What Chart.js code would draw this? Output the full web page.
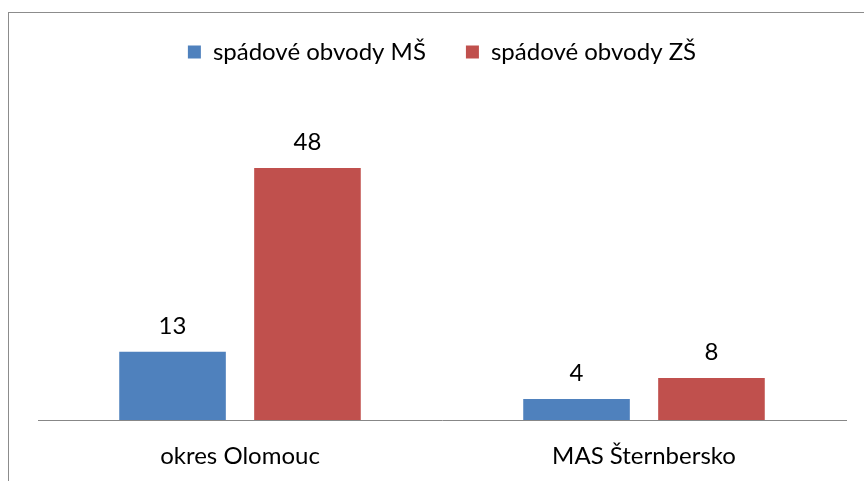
<!DOCTYPE html>
<html>
<head>
<meta charset="utf-8">
<script src="https://cdn.jsdelivr.net/npm/chart.js@4/dist/chart.umd.min.js"></script>
<style>
  html, body { margin: 0; padding: 0; background: #fff; }
  #wrap { width: 864px; height: 481px; }
</style>
</head>
<body>
<div id="wrap"><canvas id="chart" width="864" height="481"></canvas></div>
<script>
const categories = ['okres Olomouc', 'MAS Šternbersko'];
const seriesNames = ['spádové obvody MŠ', 'spádové obvody ZŠ'];
const msValues = [13, 4];
const zsValues = [48, 8];
const colors = ['#4F81BD', '#C0504D'];

const fontFamily = 'Lato, "Open Sans", sans-serif';
const fontSize = 24;

// frame round the whole chart (right and bottom edges fall outside the picture)
const framePlugin = {
    id: 'frame',
    beforeDraw(chart) {
        const ctx = chart.ctx;
        ctx.save();
        ctx.fillStyle = '#fff';
        ctx.fillRect(0, 0, chart.width, chart.height);
        ctx.strokeStyle = '#8c8c8c';
        ctx.lineWidth = 1;
        ctx.strokeRect(8.5, 12.5, 1000, 1000);
        ctx.restore();
    }
};

// value labels above the bars
const valueLabels = {
    id: 'valueLabels',
    afterDatasetsDraw(chart) {
        const ctx = chart.ctx;
        ctx.save();
        ctx.font = fontSize + 'px ' + fontFamily;
        ctx.fillStyle = '#000';
        ctx.textAlign = 'center';
        ctx.textBaseline = 'alphabetic';
        chart.data.datasets.forEach((ds, i) => {
            chart.getDatasetMeta(i).data.forEach((bar, j) => {
                ctx.fillText(ds.data[j], bar.x, bar.y - 18);
            });
        });
        ctx.restore();
    }
};

// extra room under the legend
const legendGap = {
    id: 'legendGap',
    beforeInit(chart) {
        const fit = chart.legend.fit;
        chart.legend.fit = function () {
            fit.call(this);
            this.height += 31;
        };
    }
};

new Chart(document.getElementById('chart'), {
    type: 'bar',
    data: {
        labels: categories,
        datasets: [
            { label: seriesNames[0], data: msValues, backgroundColor: colors[0] },
            { label: seriesNames[1], data: zsValues, backgroundColor: colors[1] }
        ]
    },
    options: {
        responsive: false,
        animation: false,
        categoryPercentage: 0.668,
        barPercentage: 0.79,
        layout: { padding: { left: 38, right: 18, top: 0, bottom: 13 } },
        plugins: {
            legend: {
                position: 'top',
                labels: {
                    boxWidth: 13,
                    boxHeight: 13,
                    padding: 40,
                    color: '#000',
                    font: { family: fontFamily, size: fontSize }
                }
            },
            tooltip: { enabled: false }
        },
        scales: {
            x: {
                grid: { display: false, drawTicks: false },
                border: { display: true, color: '#878787', width: 1 },
                ticks: { color: '#000', padding: 22, font: { family: fontFamily, size: fontSize } },
                afterFit(scale) { scale.height = 48; }
            },
            y: {
                display: false,
                min: 0,
                max: 60
            }
        }
    },
    plugins: [framePlugin, valueLabels, legendGap]
});
</script>
</body>
</html>
